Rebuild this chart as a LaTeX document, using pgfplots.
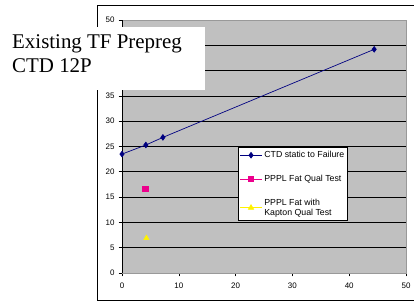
\documentclass[border=0pt]{standalone}
\usepackage{fontspec}
\setmainfont{Liberation Sans}
\newfontfamily\seriffont{Liberation Serif}
\usepackage{pgfplots}
\pgfplotsset{compat=1.18}
\definecolor{exnavy}{RGB}{0,0,128}
\definecolor{exgray}{RGB}{192,192,192}
\begin{document}
\begin{tikzpicture}
\useasboundingbox (0bp,0bp) rectangle (414bp,303bp);
\draw[black,line width=0.9bp] (413.5bp,298bp) -- (97bp,298bp) -- (97bp,3bp) -- (413.5bp,3bp);
\begin{axis}[
  at={(122bp,30bp)}, anchor=south west,
  scale only axis, width=284bp, height=253bp,
  xmin=0, xmax=50, ymin=0, ymax=50,
  xtick={0,10,...,50}, ytick={0,5,...,50},
  xtick pos=bottom, ytick pos=left,
  tick align=outside, major tick length=3.5bp,
  tick style={black, line width=0.6bp},
  ymajorgrids, grid style={black, line width=0.6bp},
  axis background/.style={fill=exgray},
  axis line style={draw=gray!80, line width=0.6bp},
  tick label style={font=\fontsize{8}{9}\selectfont},
  /pgf/number format/assume math mode=true,
  xticklabel style={yshift=-2.5bp},
  yticklabel style={xshift=-0.5bp},
  legend style={at={(axis cs:20.4,24.9)}, anchor=north west,
    font=\fontsize{8.8}{9.8}\selectfont, draw=black, line width=0.6bp, fill=white,
    cells={align=left}, inner xsep=1.5bp, inner ysep=2bp,
    row sep=12bp},
  legend cell align=left,
  legend image code/.code={
    \draw[mark repeat=2, mark phase=2, #1] plot coordinates {(0bp,0bp) (11bp,0bp) (22bp,0bp)};
  },
]
\addplot[exnavy, line width=0.7bp, mark=diamond*, mark size=2.8bp, mark options={exnavy, solid}]
  coordinates {(0,23.5) (4.2,25.3) (7.2,26.8) (44.4,44.2)};
\addlegendentry{CTD static to Failure}
\addplot[magenta, only marks, mark=square*, mark size=2.6bp, mark options={magenta}, forget plot]
  coordinates {(4.1,16.6)};
\addlegendimage{magenta, line width=0.7bp, mark=square*, mark size=2.3bp, mark options={magenta}}
\addlegendentry{PPPL Fat Qual Test}
\addplot[yellow, only marks, mark=triangle*, mark size=3.2bp, mark options={yellow}, forget plot]
  coordinates {(4.3,6.9)};
\addlegendimage{yellow, line width=0.7bp, mark=triangle*, mark size=3bp, mark options={yellow}}
\addlegendentry{PPPL Fat with\\Kapton Qual Test}
\draw[black, line width=0.7bp] (rel axis cs:0,1) -- (rel axis cs:0,0) -- (rel axis cs:1,0);
\end{axis}
\fill[white] (0bp,213bp) rectangle (205bp,276bp);
\node[anchor=north west, align=left, inner sep=0pt, font=\seriffont\fontsize{21}{25}\selectfont]
  at (12bp,269bp) {Existing TF Prepreg\\CTD 12P};
\end{tikzpicture}
\end{document}
